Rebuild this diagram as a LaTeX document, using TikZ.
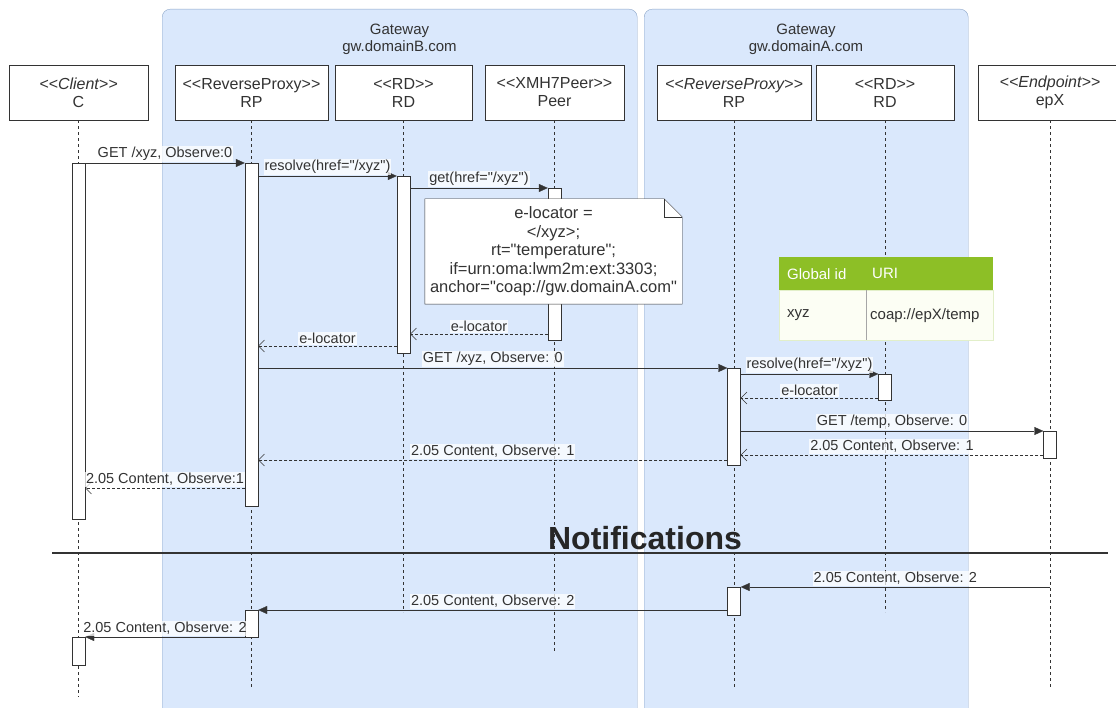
\documentclass[tikz,border=0pt]{standalone}
\usepackage{fontspec}
\setmainfont{Liberation Sans}[Ligatures=TeXOff]
\usetikzlibrary{arrows.meta}

\definecolor{gwfill}{RGB}{218,232,252}
\definecolor{gwline}{RGB}{140,165,200}
\definecolor{ink}{RGB}{51,51,51}
\definecolor{tabgreen}{RGB}{141,191,38}
\definecolor{tabbody}{RGB}{252,254,244}

\newcommand{\stereo}[1]{<{}<#1>{}>}

\begin{document}
\begin{tikzpicture}[x=1pt,y=-1pt,
	gw/.style={draw=gwline, fill=gwfill, rounded corners=8pt, anchor=north west},
	gwlbl/.style={align=center, text=ink, font=\fontsize{15}{17}\selectfont},
	head/.style={draw=ink, fill=white, minimum height=55pt, align=center, inner sep=1pt, text=ink, font=\fontsize{16}{18}\selectfont},
	life/.style={draw=ink, dash pattern=on 3pt off 3pt},
	act/.style={draw=ink, fill=white, minimum width=13pt, inner sep=0pt, anchor=north},
	msg/.style={draw=ink, -{Triangle[length=9pt,width=8pt]}},
	ret/.style={draw=ink, dash pattern=on 3pt off 2pt, -{Straight Barb[length=6pt,width=12pt]}},
	lbl/.style={above=1pt, fill=white, fill opacity=0.75, text opacity=1, text=ink, inner sep=1pt, font=\fontsize{14.5}{16}\selectfont},
	cell/.style={anchor=west, inner sep=0pt, font=\fontsize{15}{17}\selectfont}
]
	\useasboundingbox (0,0) rectangle (1116,708);

	% gateways
	\node[gw, minimum width=475pt, minimum height=720pt] (gwB) at (162,9) {};
	\node[gw, minimum width=324pt, minimum height=720pt] (gwA) at (644,9) {};
	\node[gwlbl] (gwBlbl) at (399.5,39.5) {Gateway\\gw.domainB.com};
	\node[gwlbl] (gwAlbl) at (806,39.5) {Gateway\\gw.domainA.com};

	% lifeline heads
	\node[head, minimum width=139pt] (hC) at (78.5,92.5) {\textit{\stereo{Client}}\\C};
	\node[head, minimum width=153pt] (hRPb) at (251.5,92.5) {\stereo{ReverseProxy}\\RP};
	\node[head, minimum width=137pt] (hRDb) at (403.5,92.5) {\stereo{RD}\\RD};
	\node[head, minimum width=139pt] (hPeer) at (554.5,92.5) {\stereo{XMH7Peer}\\Peer};
	\node[head, minimum width=154pt] (hRPa) at (734,92.5) {\textit{\stereo{ReverseProxy}}\\RP};
	\node[head, minimum width=138pt] (hRDa) at (885,92.5) {\stereo{RD}\\RD};
	\node[head, minimum width=144pt] (hEp) at (1050,92.5) {\textit{\stereo{Endpoint}}\\epX};

	\draw[life] (hC.south) -- ++(0,577);
	\draw[life] (hRPb.south) -- ++(0,567);
	\draw[life] (hRDb.south) -- ++(0,492);
	\draw[life] (hPeer.south) -- ++(0,533);
	\draw[life] (hRPa.south) -- ++(0,568);
	\draw[life] (hRDa.south) -- ++(0,492);
	\draw[life] (hEp.south) -- ++(0,568);

	% activations
	\node[act, minimum height=356pt] (aC) at (78.5,163) {};
	\node[act, minimum height=343pt] (aRPb) at (251.5,163) {};
	\node[act, minimum height=177pt] (aRDb) at (403.5,176) {};
	\node[act, minimum height=152pt] (aPeer) at (554.5,188) {};
	\node[act, minimum height=97pt] (aRPa) at (734,368) {};
	\node[act, minimum height=26pt] (aRDa) at (885,374) {};
	\node[act, minimum height=27pt] (aEp) at (1050,431) {};
	\node[act, minimum height=28pt] (aRPa2) at (734,587) {};
	\node[act, minimum height=27pt] (aRPb2) at (251.5,610) {};
	\node[act, minimum height=28pt] (aC2) at (78.5,637) {};

	% message rows
	\coordinate (m1) at (0,163);
	\coordinate (m2) at (0,176);
	\coordinate (m3) at (0,188);
	\coordinate (m4) at (0,334);
	\coordinate (m5) at (0,346);
	\coordinate (m6) at (0,368);
	\coordinate (m7) at (0,374);
	\coordinate (m8) at (0,398);
	\coordinate (m9) at (0,431);
	\coordinate (m10) at (0,455);
	\coordinate (m11) at (0,460);
	\coordinate (m12) at (0,488);
	\coordinate (m13) at (0,587);
	\coordinate (m14) at (0,610);
	\coordinate (m15) at (0,637);

	\draw[msg] (aC.east |- m1) -- node[lbl] (l1) {GET /xyz, Observe:0} (aRPb.west |- m1);
	\draw[msg] (aRPb.east |- m2) -- node[lbl] (l2) {resolve(href="/xyz")} (aRDb.west |- m2);
	\draw[msg] (aRDb.east |- m3) -- node[lbl] (l3) {get(href="/xyz")} (aPeer.west |- m3);
	\draw[ret] (aPeer.west |- m4) -- node[lbl] (l4) {e-locator} (aRDb.east |- m4);
	\draw[ret] (aRDb.west |- m5) -- node[lbl] (l5) {e-locator} (aRPb.east |- m5);
	\draw[msg] (aRPb.east |- m6) -- node[lbl] (l6) {GET /xyz, Observe: 0} (aRPa.west |- m6);
	\draw[msg] (aRPa.east |- m7) -- node[lbl] (l7) {resolve(href="/xyz")} (aRDa.west |- m7);
	\draw[ret] (aRDa.west |- m8) -- node[lbl] (l8) {e-locator} (aRPa.east |- m8);
	\draw[msg] (aRPa.east |- m9) -- node[lbl] (l9) {GET /temp, Observe: 0} (aEp.west |- m9);
	\draw[ret] (aEp.west |- m10) -- node[lbl] (l10) {2.05 Content, Observe: 1} (aRPa.east |- m10);
	\draw[ret] (aRPa.west |- m11) -- node[lbl] (l11) {2.05 Content, Observe: 1} (aRPb.east |- m11);
	\draw[ret] (aRPb.west |- m12) -- node[lbl] (l12) {2.05 Content, Observe:1} (aC.east |- m12);

	% note
	\path (553.5,251.5) node[minimum width=257pt, minimum height=105pt] (note) {};
	\draw[ink, fill=white] (note.north west) -- ([xshift=-18pt]note.north east) -- ([yshift=-18pt]note.north east) -- (note.south east) -- (note.south west) -- cycle;
	\draw[ink] ([xshift=-18pt]note.north east) |- ([yshift=-18pt]note.north east);
	\node[align=center, text=ink, font=\fontsize{16.5}{18.6}\selectfont] (notetxt) at (note) {e-locator =\\</xyz>;\\rt="temperature";\\if=urn:oma:lwm2m:ext:3303;\\anchor="coap://gw.domainA.com"};

	% lookup table
	\node[fill=tabgreen, minimum width=214pt, minimum height=33pt, inner sep=0pt, anchor=north west] (tHead) at (779,257) {};
	\node[fill=tabbody, draw=tabgreen!25, minimum width=214pt, minimum height=50pt, inner sep=0pt, anchor=north west] (tBody) at (779,290) {};
	\draw[gray!70] ([xshift=87pt]tBody.north west) -- ([xshift=87pt]tBody.south west);
	\node[cell, text=white] (tGid) at ([xshift=8pt]tHead.west) {Global id};
	\node[cell, text=white] (tUri) at ([xshift=93pt]tHead.west) {URI};
	\node[cell, text=ink] (tXyz) at ([xshift=8pt]tBody.west) {xyz};
	\node[cell, text=ink] (tCoap) at ([xshift=91pt]tBody.west) {coap://epX/temp};

	% notifications
	\node[anchor=base, text=black!85, font=\bfseries\fontsize{32}{36}\selectfont] (notif) at (645,549) {Notifications};
	\coordinate (nL) at (52,553);
	\coordinate (nR) at (1108,553);
	\draw[ink, line width=1.2pt] (nL) -- (nR);

	\draw[msg] (hEp.south |- m13) -- node[lbl] (l13) {2.05 Content, Observe: 2} (aRPa2.east |- m13);
	\draw[msg] (aRPa2.west |- m14) -- node[lbl] (l14) {2.05 Content, Observe: 2} (aRPb2.east |- m14);
	\draw[msg] (aRPb2.west |- m15) -- node[lbl] (l15) {2.05 Content, Observe: 2} (aC2.east |- m15);
\end{tikzpicture}
\end{document}
